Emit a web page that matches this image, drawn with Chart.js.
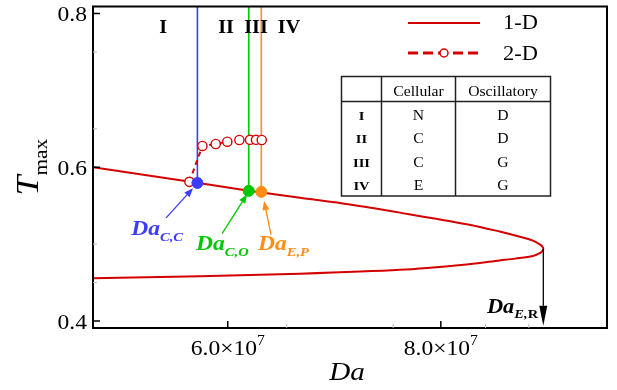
<!DOCTYPE html>
<html>
<head>
<meta charset="utf-8">
<script src="https://cdn.jsdelivr.net/npm/chart.js@4.4.1/dist/chart.umd.min.js"></script>
<style>
  html, body { margin: 0; padding: 0; background: #fff; }
  #chart { display: block; }
</style>
</head>
<body>
<canvas id="chart" width="617" height="390"></canvas>
<script>
// axis ranges and ticks
const xMin = 4.735e7, xMax = 9.56e7;
const yMin = 0.391, yMax = 0.809;
const xTicks = [6.0e7, 8.0e7];
const xTickLabels = ['6.0', '8.0'];
const yTicks = [0.4, 0.6, 0.8];
const yTickLabels = ['0.4', '0.6', '0.8'];
const xMinorTicks = [6.553e7, 7.553e7, 8.42e7, 8.826e7];
const yMinorTicks = [0.45, 0.5, 0.65, 0.75];

// 1-D solution (upper branch, fold, lower branch)
const da1D = [4.735e7, 5.712e7, 6.197e7, 6.678e7, 7.147e7, 7.616e7, 8.242e7, 8.552e7, 8.70e7, 8.864e7, 8.933e7, 8.955e7, 8.962e7,
              8.955e7, 8.933e7, 8.864e7, 8.70e7, 8.552e7, 8.242e7, 7.616e7, 6.678e7, 5.740e7, 4.735e7];
const t1D  = [0.600, 0.5798, 0.5695, 0.5603, 0.5515, 0.5410, 0.5260, 0.5165, 0.5112, 0.5046, 0.4994, 0.4965, 0.4939,
              0.4913, 0.4886, 0.4845, 0.4812, 0.4788, 0.4737, 0.4666, 0.4615, 0.4583, 0.4557];

// 2-D solution
const da2D = [5.640e7, 5.762e7, 5.887e7, 5.996e7, 6.109e7, 6.209e7, 6.265e7, 6.319e7];
const t2D  = [0.581, 0.6277, 0.6302, 0.6332, 0.6354, 0.6357, 0.6357, 0.6354];

// critical points
const critNames = ['C,C', 'C,O', 'E,P'];
const critDa = [5.715e7, 6.197e7, 6.315e7];
const critT  = [0.5796, 0.5693, 0.568];
const critColors = ['rgb(60,60,255)', 'rgb(0,200,0)', 'rgb(255,140,20)'];
const daER = 8.962e7, tER = 0.4939, tERend = 0.394;

// regions table
const regions = ['I', 'II', 'III', 'IV'];
const cellular = ['N', 'C', 'C', 'E'];
const oscillatory = ['D', 'D', 'G', 'G'];

const RED = 'rgb(212,0,0)';
const SERIF = '"Liberation Serif", "Times New Roman", serif';
const SX = 1.12;

// annotation placement (data coords)
const regionLabelPos = [5.393e7, 5.984e7, 6.265e7, 6.575e7];
const regionLabelT = 0.775;
const critArrows = [
  { tail: [5.421e7, 0.5341], head: [5.674e7, 0.5727], label: [5.094e7, 0.5122] },
  { tail: [5.947e7, 0.5136], head: [6.181e7, 0.5650], label: [5.703e7, 0.4930] },
  { tail: [6.406e7, 0.5123], head: [6.341e7, 0.5560], label: [6.284e7, 0.4930] }
];
const erLabel = [8.433e7, 0.4107];

function zip(xs, ys) { return xs.map((x, i) => ({ x: x, y: ys[i] })); }

function rich(ctx, parts, x, y, align, color) {
  ctx.save();
  ctx.fillStyle = color;
  ctx.textAlign = 'left';
  ctx.textBaseline = 'alphabetic';
  let w = 0;
  parts.forEach(p => { ctx.font = p[2] + ' ' + p[1] + 'px ' + SERIF; w += ctx.measureText(p[0]).width * SX; });
  let cx = align === 'center' ? x - w / 2 : align === 'right' ? x - w : x;
  parts.forEach(p => {
    ctx.font = p[2] + ' ' + p[1] + 'px ' + SERIF;
    const pw = ctx.measureText(p[0]).width * SX;
    ctx.save();
    ctx.translate(cx, y + (p[3] || 0));
    ctx.scale(SX, 1);
    ctx.fillText(p[0], 0, 0);
    ctx.restore();
    cx += pw;
  });
  ctx.restore();
  return w;
}

function arrow(ctx, x1, y1, x2, y2, color, lw, hl, hw) {
  const a = Math.atan2(y2 - y1, x2 - x1);
  const bx = x2 - hl * Math.cos(a), by = y2 - hl * Math.sin(a);
  ctx.save();
  ctx.strokeStyle = color; ctx.fillStyle = color; ctx.lineWidth = lw;
  ctx.beginPath(); ctx.moveTo(x1, y1); ctx.lineTo(bx, by); ctx.stroke();
  ctx.beginPath();
  ctx.moveTo(x2, y2);
  ctx.lineTo(bx + hw * Math.sin(a), by - hw * Math.cos(a));
  ctx.lineTo(bx - hw * Math.sin(a), by + hw * Math.cos(a));
  ctx.closePath(); ctx.fill();
  ctx.restore();
}

const decorations = {
  id: 'decorations',
  afterDatasetsDraw(chart) {
    const ctx = chart.ctx;
    const xs = chart.scales.x, ys = chart.scales.y;
    const area = chart.chartArea;
    const px = v => xs.getPixelForValue(v), py = v => ys.getPixelForValue(v);

    // arrow to Da_E,R
    arrow(ctx, px(daER), py(tER), px(daER), py(tERend), '#000', 1.3, 20, 4);
    rich(ctx, [['Da', 20, 'italic bold'], ['E,', 13, 'italic bold', 5], ['R', 13, 'bold', 5]],
         px(erLabel[0]), py(erLabel[1]), 'left', '#000');

    // critical point arrows and labels
    critArrows.forEach((c, i) => {
      arrow(ctx, px(c.tail[0]), py(c.tail[1]), px(c.head[0]), py(c.head[1]), critColors[i], 1.3, 9, 3.5);
      rich(ctx, [['Da', 21, 'italic bold'], [critNames[i], 13, 'italic bold', 6]],
           px(c.label[0]), py(c.label[1]), 'left', critColors[i]);
    });

    // region labels
    regions.forEach((r, i) => {
      rich(ctx, [[r, 18, 'bold']], px(regionLabelPos[i]), py(regionLabelT), 'center', '#000');
    });

    ctx.save();
    // frame
    ctx.strokeStyle = '#000';
    ctx.lineWidth = 2;
    ctx.strokeRect(area.left, area.top, area.right - area.left, area.bottom - area.top);

    // inward ticks
    ctx.lineWidth = 1.5;
    ctx.beginPath();
    yTicks.forEach(v => { ctx.moveTo(area.left, py(v)); ctx.lineTo(area.left + 7, py(v)); });
    xTicks.forEach(v => { ctx.moveTo(px(v), area.bottom); ctx.lineTo(px(v), area.bottom - 7); });
    ctx.stroke();
    ctx.strokeStyle = '#bbb';
    ctx.lineWidth = 1;
    ctx.beginPath();
    yMinorTicks.forEach(v => { ctx.moveTo(area.left, py(v)); ctx.lineTo(area.left + 4, py(v)); });
    xMinorTicks.forEach(v => { ctx.moveTo(px(v), area.bottom); ctx.lineTo(px(v), area.bottom - 4); });
    ctx.stroke();
    ctx.restore();

    // tick labels
    yTicks.forEach((v, i) => rich(ctx, [[yTickLabels[i], 21, '']], area.left - 6, py(v) + 8, 'right', '#000'));
    xTicks.forEach((v, i) => rich(ctx, [[xTickLabels[i] + '\u00d710', 21, ''], ['7', 14, '', -10]],
                                  px(v), 355, 'center', '#000'));

    // axis titles
    rich(ctx, [['Da', 26, 'italic']], (area.left + area.right) / 2 - 3, 380, 'center', '#000');
    ctx.save();
    ctx.translate(38, (area.top + area.bottom) / 2);
    ctx.rotate(-Math.PI / 2);
    rich(ctx, [['T', 32, 'italic'], ['max', 19, '', 9]], 0, 0, 'center', '#000');
    ctx.restore();

    // legend
    ctx.save();
    ctx.strokeStyle = RED;
    ctx.lineWidth = 2;
    ctx.beginPath(); ctx.moveTo(408, 23); ctx.lineTo(480, 23); ctx.stroke();
    ctx.lineWidth = 3;
    ctx.setLineDash([10, 5]);
    ctx.beginPath(); ctx.moveTo(408, 53); ctx.lineTo(480, 53); ctx.stroke();
    ctx.setLineDash([]);
    ctx.lineWidth = 1.5;
    ctx.fillStyle = '#fff';
    ctx.beginPath(); ctx.arc(444, 53, 4, 0, Math.PI * 2); ctx.fill(); ctx.stroke();
    ctx.restore();
    rich(ctx, [['1-D', 20, '']], 503, 29, 'left', '#000');
    rich(ctx, [['2-D', 20, '']], 503, 60, 'left', '#000');

    // table
    const tl = 341.5, tr = 550.5, tt = 76.5, tb = 196, c1 = 381.5, c2 = 455.5, hr = 101.5;
    ctx.save();
    ctx.fillStyle = '#fff';
    ctx.fillRect(tl, tt, tr - tl, tb - tt);
    ctx.strokeStyle = '#222';
    ctx.lineWidth = 1.5;
    ctx.strokeRect(tl, tt, tr - tl, tb - tt);
    ctx.beginPath();
    ctx.moveTo(c1, tt); ctx.lineTo(c1, tb);
    ctx.moveTo(c2, tt); ctx.lineTo(c2, tb);
    ctx.moveTo(tl, hr); ctx.lineTo(tr, hr);
    ctx.stroke();
    ctx.restore();
    rich(ctx, [['Cellular', 14, '']], (c1 + c2) / 2, 96, 'center', '#000');
    rich(ctx, [['Oscillatory', 14, '']], (c2 + tr) / 2, 96, 'center', '#000');
    const rowBase = [120, 143, 167, 190];
    regions.forEach((r, i) => {
      rich(ctx, [[r, 13, 'bold']], (tl + c1) / 2, rowBase[i], 'center', '#000');
      rich(ctx, [[cellular[i], 14, '']], (c1 + c2) / 2, rowBase[i], 'center', '#000');
      rich(ctx, [[oscillatory[i], 14, '']], (c2 + tr) / 2, rowBase[i], 'center', '#000');
    });
  }
};

const datasets = [];
critDa.forEach((d, i) => {
  datasets.push({
    label: 'Da ' + critNames[i],
    data: [{ x: d, y: critT[i] }],
    pointRadius: 5.5,
    pointBackgroundColor: critColors[i],
    pointBorderColor: critColors[i],
    showLine: false,
    order: 0
  });
});
datasets.push({
  label: '2-D',
  data: zip(da2D, t2D),
  showLine: true,
  borderColor: RED,
  borderWidth: 2,
  borderDash: [5, 4],
  pointRadius: 4.6,
  pointBorderWidth: 1.4,
  pointBorderColor: RED,
  pointBackgroundColor: '#fff',
  order: 1
});
critDa.forEach((d, i) => {
  datasets.push({
    label: 'line ' + critNames[i],
    data: [{ x: d, y: critT[i] }, { x: d, y: yMax }],
    showLine: true,
    borderColor: critColors[i],
    borderWidth: 1.6,
    pointRadius: 0,
    order: 2
  });
});
datasets.push({
  label: '1-D',
  data: zip(da1D, t1D),
  showLine: true,
  borderColor: RED,
  borderWidth: 2,
  pointRadius: 0,
  tension: 0.3,
  order: 3
});

new Chart(document.getElementById('chart'), {
  type: 'scatter',
  data: { datasets: datasets },
  options: {
    responsive: false,
    devicePixelRatio: 1,
    animation: false,
    layout: { padding: { left: 93, top: 3, right: 10, bottom: 62 } },
    plugins: { legend: { display: false }, tooltip: { enabled: false } },
    scales: {
      x: { type: 'linear', display: false, min: xMin, max: xMax },
      y: { type: 'linear', display: false, min: yMin, max: yMax }
    }
  },
  plugins: [decorations]
});
</script>
</body>
</html>
